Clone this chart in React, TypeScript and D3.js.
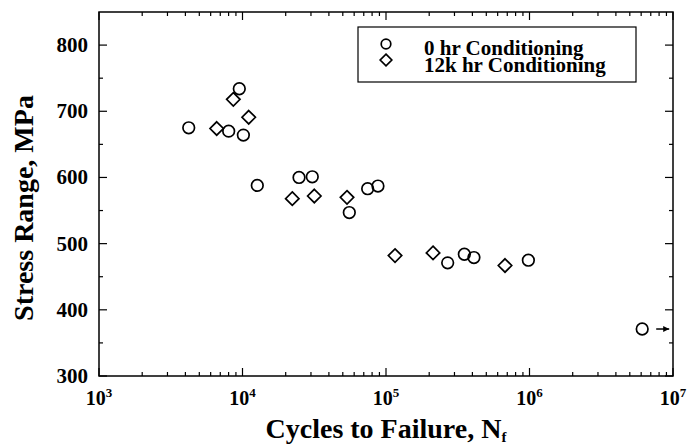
import React, { useRef, useEffect } from 'react';
import * as d3 from 'd3';

// 0 hr conditioning (last point is a run-out)
const cyclesPre = [4220, 8010, 9500, 10140, 12680, 24770, 30640, 55500, 74500, 87900, 269000, 351600, 410000, 982000, 6100000];
const stressPre = [675, 670, 734, 664, 588, 600, 601, 547, 583, 587, 471, 484, 479, 475, 371];
const runoutPre = [false, false, false, false, false, false, false, false, false, false, false, false, false, false, true];

// 12k hr conditioning
const cyclesAged = [6610, 8630, 11050, 22230, 31650, 53500, 115600, 212700, 675000];
const stressAged = [674, 718, 691, 568, 572, 570, 482, 486, 467];

const xExponents = [3, 4, 5, 6, 7];
const yTicks = [300, 400, 500, 600, 700, 800];
const yMinorTicks = [350, 450, 550, 650, 750];
const seriesNames = ['0 hr Conditioning', '12k hr Conditioning'];

export default function App() {
  const ref = useRef<SVGSVGElement>(null);

  useEffect(() => {
    const svg = d3.select(ref.current);
    svg.selectAll('*').remove();

    const width = 688;
    const height = 446;
    const margin = { top: 12, right: 15, bottom: 70, left: 99 };
    const font = '"Liberation Serif", "Times New Roman", serif';

    const x = d3
      .scaleLog()
      .domain([1e3, 1e7])
      .range([margin.left, width - margin.right]);

    const y = d3
      .scaleLinear()
      .domain([300, 850])
      .range([height - margin.bottom, margin.top]);

    const [x0, x1] = x.range();
    const [yb, yt] = y.range();

    // ticks, inward on all four sides
    const ticks = svg.append('g').attr('stroke', '#000').attr('stroke-width', 1.2);
    const xMinor = x.ticks().filter(v => !xExponents.some(e => Math.abs(v - 10 ** e) < 1e-6));
    xMinor.forEach(v => {
      ticks.append('line').attr('x1', x(v)).attr('x2', x(v)).attr('y1', yb).attr('y2', yb - 4);
      ticks.append('line').attr('x1', x(v)).attr('x2', x(v)).attr('y1', yt).attr('y2', yt + 4);
    });
    xExponents.forEach(e => {
      const v = 10 ** e;
      ticks.append('line').attr('x1', x(v)).attr('x2', x(v)).attr('y1', yb).attr('y2', yb - 8);
      ticks.append('line').attr('x1', x(v)).attr('x2', x(v)).attr('y1', yt).attr('y2', yt + 8);
    });
    yTicks.forEach(v => {
      ticks.append('line').attr('x1', x0).attr('x2', x0 + 8).attr('y1', y(v)).attr('y2', y(v));
      ticks.append('line').attr('x1', x1).attr('x2', x1 - 8).attr('y1', y(v)).attr('y2', y(v));
    });
    yMinorTicks.forEach(v => {
      ticks.append('line').attr('x1', x0).attr('x2', x0 + 4).attr('y1', y(v)).attr('y2', y(v));
      ticks.append('line').attr('x1', x1).attr('x2', x1 - 4).attr('y1', y(v)).attr('y2', y(v));
    });

    // frame
    svg
      .append('rect')
      .attr('x', x0)
      .attr('y', yt)
      .attr('width', x1 - x0)
      .attr('height', yb - yt)
      .attr('fill', 'none')
      .attr('stroke', '#000')
      .attr('stroke-width', 1.5);

    // y tick labels
    svg
      .append('g')
      .selectAll('text')
      .data(yTicks)
      .join('text')
      .attr('x', x0 - 11)
      .attr('y', d => y(d) + 7)
      .attr('text-anchor', 'end')
      .attr('font-family', font)
      .attr('font-weight', 'bold')
      .attr('font-size', 21)
      .text(d => d);

    // x tick labels 10^n
    const xl = svg
      .append('g')
      .selectAll('text')
      .data(xExponents)
      .join('text')
      .attr('x', d => x(10 ** d))
      .attr('y', yb + 29)
      .attr('text-anchor', 'middle')
      .attr('font-family', font)
      .attr('font-weight', 'bold')
      .attr('font-size', 20);
    xl.append('tspan').text('10');
    xl.append('tspan').attr('dy', -8).attr('font-size', 13).text(d => d);

    // axis titles
    const xt = svg
      .append('text')
      .attr('x', (x0 + x1) / 2)
      .attr('y', 438)
      .attr('text-anchor', 'middle')
      .attr('font-family', font)
      .attr('font-weight', 'bold')
      .attr('font-size', 28);
    xt.append('tspan').text('Cycles to Failure, N');
    xt.append('tspan').attr('dy', 4).attr('font-size', 15).text('f');

    svg
      .append('text')
      .attr('transform', 'translate(33,208) rotate(-90)')
      .attr('text-anchor', 'middle')
      .attr('font-family', font)
      .attr('font-weight', 'bold')
      .attr('font-size', 28)
      .text('Stress Range, MPa');

    // data: circles
    svg
      .append('g')
      .selectAll('circle')
      .data(cyclesPre)
      .join('circle')
      .attr('cx', d => x(d))
      .attr('cy', (d, i) => y(stressPre[i]))
      .attr('r', 5.8)
      .attr('fill', 'none')
      .attr('stroke', '#000')
      .attr('stroke-width', 1.7);

    // data: diamonds
    const diamond = (cx: number, cy: number, s: number) =>
      `M${cx},${cy - s}L${cx + s},${cy}L${cx},${cy + s}L${cx - s},${cy}Z`;
    svg
      .append('g')
      .selectAll('path')
      .data(cyclesAged)
      .join('path')
      .attr('d', (d, i) => diamond(x(d), y(stressAged[i]), 6.7))
      .attr('fill', 'none')
      .attr('stroke', '#000')
      .attr('stroke-width', 1.7);

    // run-out arrow
    svg
      .append('defs')
      .append('marker')
      .attr('id', 'arrowhead')
      .attr('viewBox', '0 0 10 10')
      .attr('refX', 10)
      .attr('refY', 5)
      .attr('markerWidth', 8)
      .attr('markerHeight', 6)
      .attr('markerUnits', 'userSpaceOnUse')
      .attr('orient', 'auto')
      .append('path')
      .attr('d', 'M0,0L10,5L0,10Z')
      .attr('fill', '#000');
    cyclesPre.forEach((c, i) => {
      if (!runoutPre[i]) return;
      svg
        .append('line')
        .attr('x1', x(c) + 14)
        .attr('x2', x(c) + 27)
        .attr('y1', y(stressPre[i]))
        .attr('y2', y(stressPre[i]))
        .attr('stroke', '#000')
        .attr('stroke-width', 1.5)
        .attr('marker-end', 'url(#arrowhead)');
    });

    // legend
    const lg = svg.append('g').attr('transform', 'translate(358,27)');
    lg.append('rect')
      .attr('width', 278)
      .attr('height', 55)
      .attr('fill', '#fff')
      .attr('stroke', '#000')
      .attr('stroke-width', 1.2);
    lg.append('circle')
      .attr('cx', 28)
      .attr('cy', 17)
      .attr('r', 4.8)
      .attr('fill', 'none')
      .attr('stroke', '#000')
      .attr('stroke-width', 1.7);
    lg.append('path')
      .attr('d', diamond(28, 33, 5.8))
      .attr('fill', 'none')
      .attr('stroke', '#000')
      .attr('stroke-width', 1.7);
    lg.append('text')
      .attr('font-family', font)
      .attr('font-weight', 'bold')
      .attr('font-size', 21)
      .selectAll('tspan')
      .data(seriesNames)
      .join('tspan')
      .attr('x', 66)
      .attr('y', (d, i) => 28 + i * 16.5)
      .text(d => d);
  }, []);

  return (
    <svg
      ref={ref}
      width={688}
      height={446}
      style={{ position: 'absolute', left: 0, top: 0, background: '#fff' }}
    />
  );
}
